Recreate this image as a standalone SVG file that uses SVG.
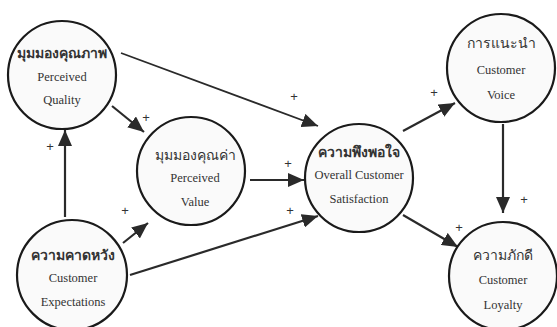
<svg xmlns="http://www.w3.org/2000/svg" width="557" height="327" viewBox="0 0 557 327">
<style>
.node circle{fill:#fafafa;stroke:#1a1a1a;stroke-width:2.2}
.th{font-family:"Liberation Serif","DejaVu Serif",serif;font-size:14px;fill:#333;text-anchor:middle}
.en{font-family:"Liberation Serif","DejaVu Serif",serif;font-size:12.5px;fill:#333;text-anchor:middle}
.edges line{stroke:#2a2a2a;stroke-width:2.2;marker-end:url(#ah)}
.plus{font-family:"Liberation Sans","DejaVu Sans",sans-serif;font-size:13px;fill:#333;text-anchor:middle}
</style>
<defs>
<marker id="ah" markerUnits="userSpaceOnUse" markerWidth="18" markerHeight="14" refX="16" refY="7" orient="auto">
<path d="M0,0 L16,7 L0,14 Z" fill="#2a2a2a"/>
</marker>
</defs>
<rect width="557" height="327" fill="#ffffff"/>
<g class="edges">
<line x1="121" y1="53" x2="318" y2="126" style="stroke-width:1.8"/>
<line x1="112" y1="106" x2="144" y2="132"/>
<line x1="65" y1="217" x2="65" y2="130"/>
<line x1="123" y1="243" x2="148" y2="223"/>
<line x1="250" y1="180" x2="304" y2="180"/>
<line x1="130" y1="275" x2="318" y2="216"/>
<line x1="403" y1="131" x2="455" y2="103"/>
<line x1="503" y1="124" x2="503" y2="213"/>
<line x1="403" y1="215" x2="458" y2="247"/>
</g>
<g class="plus">
<text x="294" y="101">+</text>
<text x="146" y="122">+</text>
<text x="50" y="151">+</text>
<text x="125" y="215">+</text>
<text x="288" y="168">+</text>
<text x="290" y="215">+</text>
<text x="434" y="97">+</text>
<text x="524" y="204">+</text>
<text x="459" y="232">+</text>
</g>
<g id="perceived-quality" class="node">
<circle cx="62" cy="75" r="54"/>
<text class="th" x="62" y="58" font-weight="bold">มุมมองคุณภาพ</text>
<text class="en" x="62" y="81">Perceived</text>
<text class="en" x="62" y="104">Quality</text>
</g>
<g id="perceived-value" class="node">
<circle cx="191" cy="171" r="54"/>
<text class="th" x="195" y="160">มุมมองคุณค่า</text>
<text class="en" x="195" y="182">Perceived</text>
<text class="en" x="195" y="206">Value</text>
</g>
<g id="satisfaction" class="node">
<circle cx="359" cy="178" r="54"/>
<text class="th" x="359" y="157" font-weight="bold">ความพึงพอใจ</text>
<text class="en" x="359" y="179">Overall Customer</text>
<text class="en" x="359" y="203">Satisfaction</text>
</g>
<g id="customer-voice" class="node">
<circle cx="501" cy="68" r="54"/>
<text class="th" x="501" y="48">การแนะนำ</text>
<text class="en" x="501" y="74">Customer</text>
<text class="en" x="501" y="99">Voice</text>
</g>
<g id="customer-loyalty" class="node">
<circle cx="503" cy="276" r="54"/>
<text class="th" x="503" y="260">ความภักดี</text>
<text class="en" x="503" y="284">Customer</text>
<text class="en" x="503" y="309">Loyalty</text>
</g>
<g id="customer-expectations" class="node">
<circle cx="72" cy="275" r="55"/>
<text class="th" x="73" y="260" font-weight="bold">ความคาดหวัง</text>
<text class="en" x="73" y="282">Customer</text>
<text class="en" x="73" y="306">Expectations</text>
</g>
</svg>
